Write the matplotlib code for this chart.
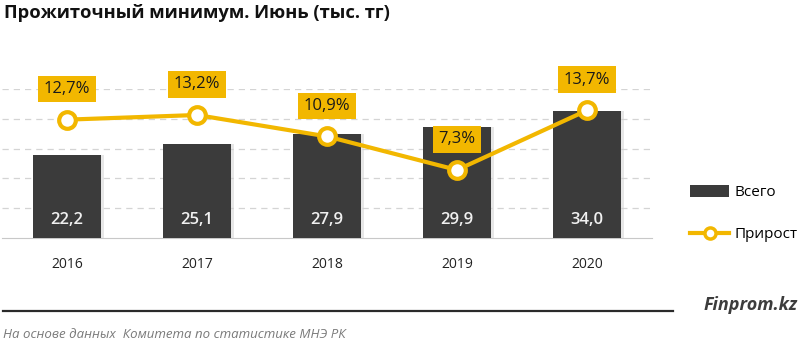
import matplotlib.pyplot as plt
from matplotlib.lines import Line2D
from matplotlib.patches import Patch

years = ['2016', '2017', '2018', '2019', '2020']
total = [22.2, 25.1, 27.9, 29.9, 34.0]
growth = [12.7, 13.2, 10.9, 7.3, 13.7]

gold = '#F2B700'
dark = '#3b3b3b'

fig = plt.figure(figsize=(8, 3.5), dpi=100)
ax = fig.add_axes([0.0025, 0.32, 0.8125, 0.426])
ax2 = ax.twinx()

x = list(range(len(years)))

# bars with a faint shadow
ax.bar([i + 0.02 for i in x], total, width=0.53, color='#d0d0d0', alpha=0.5, zorder=2)
ax.bar(x, total, width=0.53, color=dark, zorder=3)
for i, v in zip(x, total):
    ax.text(i, 4.8, f'{v:.1f}'.replace('.', ','), ha='center', va='center',
            color='#f0f0f0', fontsize=12, fontweight='semibold', family='Open Sans', zorder=4)

ax.set_xlim(-0.5, 4.5)
ax.set_ylim(0, 40)
ax.set_yticks([8, 16, 24, 32, 40])
ax.yaxis.grid(True, linestyle=(0, (5, 4)), color='#d4d4d4', linewidth=0.9, zorder=0)
ax.set_axisbelow(True)
ax.tick_params(axis='y', left=False, labelleft=False)
ax.set_xticks(x)
ax.set_xticklabels(years, fontsize=10, color='#222222', family='Open Sans')
ax.tick_params(axis='x', length=0, pad=14)
for s in ['top', 'right', 'left']:
    ax.spines[s].set_visible(False)
ax.spines['bottom'].set_color('#c8c8c8')

# growth line on secondary axis
ax2.plot(x, growth, color=gold, linewidth=3, marker='o', markersize=12,
         markerfacecolor='white', markeredgecolor=gold, markeredgewidth=3, zorder=5)
ax2.set_ylim(0, 16)
ax2.axis('off')
for i, v in zip(x, growth):
    ax2.annotate(f'{v:.1f}%'.replace('.', ','), (i, v), xytext=(0, 22), textcoords='offset points',
                 ha='center', va='center', fontsize=12, color='#1a1a1a', family='Open Sans',
                 fontweight='medium',
                 bbox=dict(boxstyle='square,pad=0.32', facecolor=gold, edgecolor='none'), zorder=6)

# legend
handles = [Patch(facecolor=dark, edgecolor='none'),
           Line2D([0], [0], color=gold, linewidth=3, marker='o', markersize=8,
                  markerfacecolor='white', markeredgecolor=gold, markeredgewidth=2.5)]
fig.legend(handles, ['Всего', 'Прирост'], loc='center left', bbox_to_anchor=(0.845, 0.39),
           frameon=False, handlelength=2.6, labelspacing=1.75, handleheight=0.9,
           handletextpad=0.35, prop={'family': 'Open Sans', 'size': 11})

fig.text(0.005, 0.963, 'Прожиточный минимум. Июнь (тыс. тг)', fontsize=13.2, fontweight='bold',
         family='Open Sans', color='#111111', va='center')

fig.add_artist(Line2D([0.004, 0.841], [0.111, 0.111], color='#2a2a2a', linewidth=1.6))
fig.text(0.997, 0.129, 'Finprom.kz', fontsize=13, fontweight='bold', style='italic',
         family='Open Sans', color='#3c3c3c', ha='right', va='center')
fig.text(0.004, 0.043, 'На основе данных  Комитета по статистике МНЭ РК', fontsize=9.5,
         style='italic', family='Open Sans', color='#7a7a7a', va='center')

fig.savefig('out.png', dpi=100)
